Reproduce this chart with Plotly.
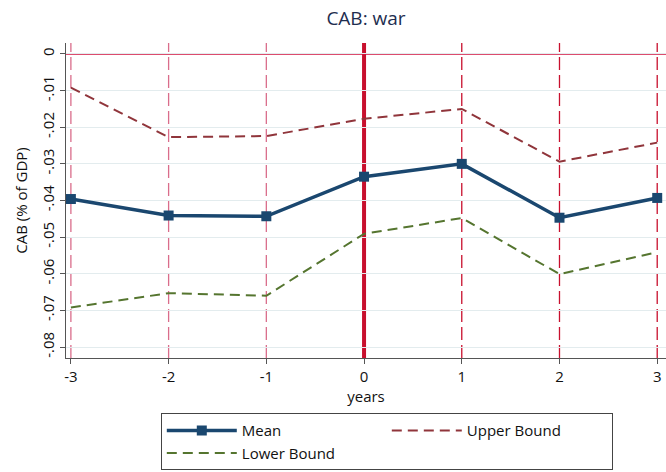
import plotly.graph_objects as go

years = [-3, -2, -1, 0, 1, 2, 3]
mean = [-0.0396, -0.0441, -0.0443, -0.0335, -0.0300, -0.0447, -0.0393]
upper = [-0.0092, -0.0227, -0.0224, -0.0177, -0.0150, -0.0294, -0.0242]
lower = [-0.0692, -0.0653, -0.0660, -0.0491, -0.0448, -0.0601, -0.0541]
yticks = [0, -0.01, -0.02, -0.03, -0.04, -0.05, -0.06, -0.07, -0.08]
yticklabels = ["0", "-.01", "-.02", "-.03", "-.04", "-.05", "-.06", "-.07", "-.08"]
event_year = 0

FONT = "Open Sans"
fig = go.Figure()

# vertical reference lines at each year
for yr in years:
    if yr == event_year:
        continue
    col = "rgba(205,60,100,0.75)" if yr < event_year else "#c8102e"
    fig.add_shape(type="line", xref="x", yref="paper", x0=yr, x1=yr, y0=0, y1=1,
                  line=dict(color=col, width=1.3, dash="13px,5px"), layer="below")
# event line and zero line
fig.add_shape(type="line", xref="x", yref="paper", x0=event_year, x1=event_year, y0=0, y1=1,
              line=dict(color="#c8102e", width=4), layer="below")
fig.add_shape(type="line", xref="paper", yref="y", x0=0, x1=1, y0=0, y1=0,
              line=dict(color="#d0103e", width=1.5), layer="below")

fig.add_trace(go.Scatter(x=years, y=mean, name="Mean", mode="lines+markers",
                         line=dict(color="#1a476f", width=3.5),
                         marker=dict(symbol="square", size=10, color="#1a476f")))
fig.add_trace(go.Scatter(x=years, y=upper, name="Upper Bound", mode="lines",
                         line=dict(color="#90353b", width=2, dash="10px,6px")))
fig.add_trace(go.Scatter(x=years, y=lower, name="Lower Bound", mode="lines",
                         line=dict(color="#55752f", width=2, dash="10px,6px")))

fig.update_layout(
    width=666, height=472,
    margin=dict(l=66, r=0, t=43, b=114),
    paper_bgcolor="white", plot_bgcolor="white",
    font=dict(family=FONT, size=14, color="#111"),
    title=dict(text="CAB: war", x=(66 + 300) / 666, xanchor="center", y=0.962, yanchor="middle",
               font=dict(family=FONT, size=19, color="#1e2d4f")),
    showlegend=True,
    legend=dict(orientation="h", x=0.158, xanchor="left", y=-0.175, yanchor="top",
                bordercolor="#444", borderwidth=1, bgcolor="white",
                entrywidth=140, entrywidthmode="pixels", itemwidth=70,
                font=dict(family=FONT, size=15, color="#111"), traceorder="normal"),
)
fig.update_xaxes(range=[-3.05, 3.09], tickvals=years, ticktext=[str(v) for v in years],
                 showgrid=False, zeroline=False, showline=True, linecolor="#555", linewidth=1.2,
                 ticks="outside", ticklen=5, tickcolor="#555",
                 title=dict(text="years", font=dict(family=FONT, size=15), standoff=3),
                 tickfont=dict(family=FONT, size=15))
fig.update_yaxes(range=[-0.083, 0.003], tickvals=yticks, ticktext=yticklabels, tickangle=-90,
                 showgrid=True, gridcolor="#e3ecee", gridwidth=1.3, zeroline=False,
                 showline=True, linecolor="#555", linewidth=1.2,
                 ticks="outside", ticklen=5, tickcolor="#555",
                 title=dict(text="CAB (% of GDP)", font=dict(family=FONT, size=15), standoff=6),
                 tickfont=dict(family=FONT, size=15))

fig.write_html("out.html")
